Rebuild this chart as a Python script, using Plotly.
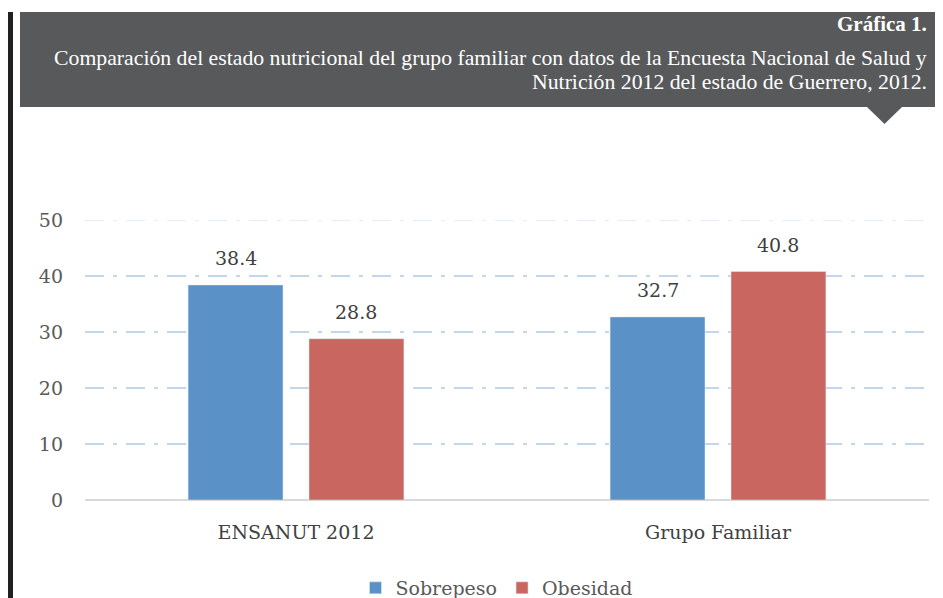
import plotly.graph_objects as go

categorias = ["ENSANUT 2012", "Grupo Familiar"]
sobrepeso = [38.4, 32.7]
obesidad = [28.8, 40.8]
y_ticks = [0, 10, 20, 30, 40, 50]

titulo = "<b>Gráfica 1.</b>"
subtitulo_1 = "Comparación del estado nutricional del grupo familiar con datos de la Encuesta Nacional de Salud y"
subtitulo_2 = "Nutrición 2012 del estado de Guerrero, 2012."

# the page has an 8px body margin, so the figure is 8px smaller than the window
OFF = 8
W, H = 943 - OFF, 598 - OFF
L, R, T, B = 85 - OFF, 14, 220 - OFF, 98
PW, PH = W - L - R, H - T - B
BARGAP, GROUPGAP = 0.427, 0.215


def px(x):
    # window x -> paper
    return (x - OFF - L) / PW


def py(y):
    # window y -> paper
    return (H - B - (y - OFF)) / PH


fig = go.Figure()
fig.add_trace(go.Bar(name="Sobrepeso", x=categorias, y=sobrepeso, marker_color="#5a92c7"))
fig.add_trace(go.Bar(name="Obesidad", x=categorias, y=obesidad, marker_color="#c9665f"))

# data labels, placed over the bars of each group
slot = PW / len(categorias) * (1 - BARGAP) / 2
labels = []
for k, serie in enumerate([sobrepeso, obesidad]):
    for cat, val in zip(categorias, serie):
        labels.append(dict(
            x=cat, y=val, xref="x", yref="y", text=f"{val:.1f}", showarrow=False,
            xshift=(k - 0.5) * slot, yshift=14, yanchor="bottom",
            font=dict(family="DejaVu Serif", size=19, color="#404040"),
        ))

fig.update_layout(
    width=W, height=H,
    margin=dict(l=L, r=R, t=T, b=B),
    plot_bgcolor="white", paper_bgcolor="white",
    barmode="group", bargap=BARGAP, bargroupgap=GROUPGAP,
    font=dict(family="DejaVu Serif", color="#595959"),
    legend=dict(orientation="h", x=px(497), xanchor="center",
                yref="container", y=(598 - 588) / H, yanchor="middle",
                font=dict(size=19, color="#595959"), traceorder="normal"),
    xaxis=dict(tickfont=dict(size=19, color="#404040"), ticks="", showline=False,
               ticklabelstandoff=19),
    yaxis=dict(range=[0, 50], tickvals=y_ticks, tickfont=dict(size=19, color="#595959"),
               gridcolor="#c2d7ec", gridwidth=2, griddash="19px,9px,4px,9px",
               zeroline=True, zerolinecolor="#d9d9d9", zerolinewidth=2, ticklabelstandoff=21),
    shapes=[
        # top gridline (plotly skips the one on the range edge)
        dict(type="line", xref="paper", yref="y", x0=0, x1=1, y0=y_ticks[-1], y1=y_ticks[-1],
             line=dict(color="#e4eef8", width=2, dash="19px,9px,4px,9px")),
        dict(type="rect", xref="paper", yref="paper", x0=px(8), x1=px(13), y0=py(12), y1=py(600),
             fillcolor="#231f20", line_width=0, layer="above"),
        dict(type="rect", xref="paper", yref="paper", x0=px(20), x1=px(945), y0=py(12), y1=py(107),
             fillcolor="#58595b", line_width=0),
        dict(type="path", xref="paper", yref="paper",
             path=f"M {px(867)} {py(107)} L {px(902)} {py(107)} L {px(884.5)} {py(124)} Z",
             fillcolor="#58595b", line_width=0),
    ],
    annotations=labels + [
        dict(text=titulo, xref="paper", yref="paper", x=px(929), y=py(24), xanchor="right",
             yanchor="middle", showarrow=False, font=dict(family="Liberation Serif", size=21, color="white")),
        dict(text=subtitulo_1, xref="paper", yref="paper", x=px(929), y=py(58), xanchor="right",
             yanchor="middle", showarrow=False, font=dict(family="Liberation Serif", size=21.75, color="white")),
        dict(text=subtitulo_2, xref="paper", yref="paper", x=px(929), y=py(82), xanchor="right",
             yanchor="middle", showarrow=False, font=dict(family="Liberation Serif", size=21.75, color="white")),
    ],
)

fig.write_html("out.html")
